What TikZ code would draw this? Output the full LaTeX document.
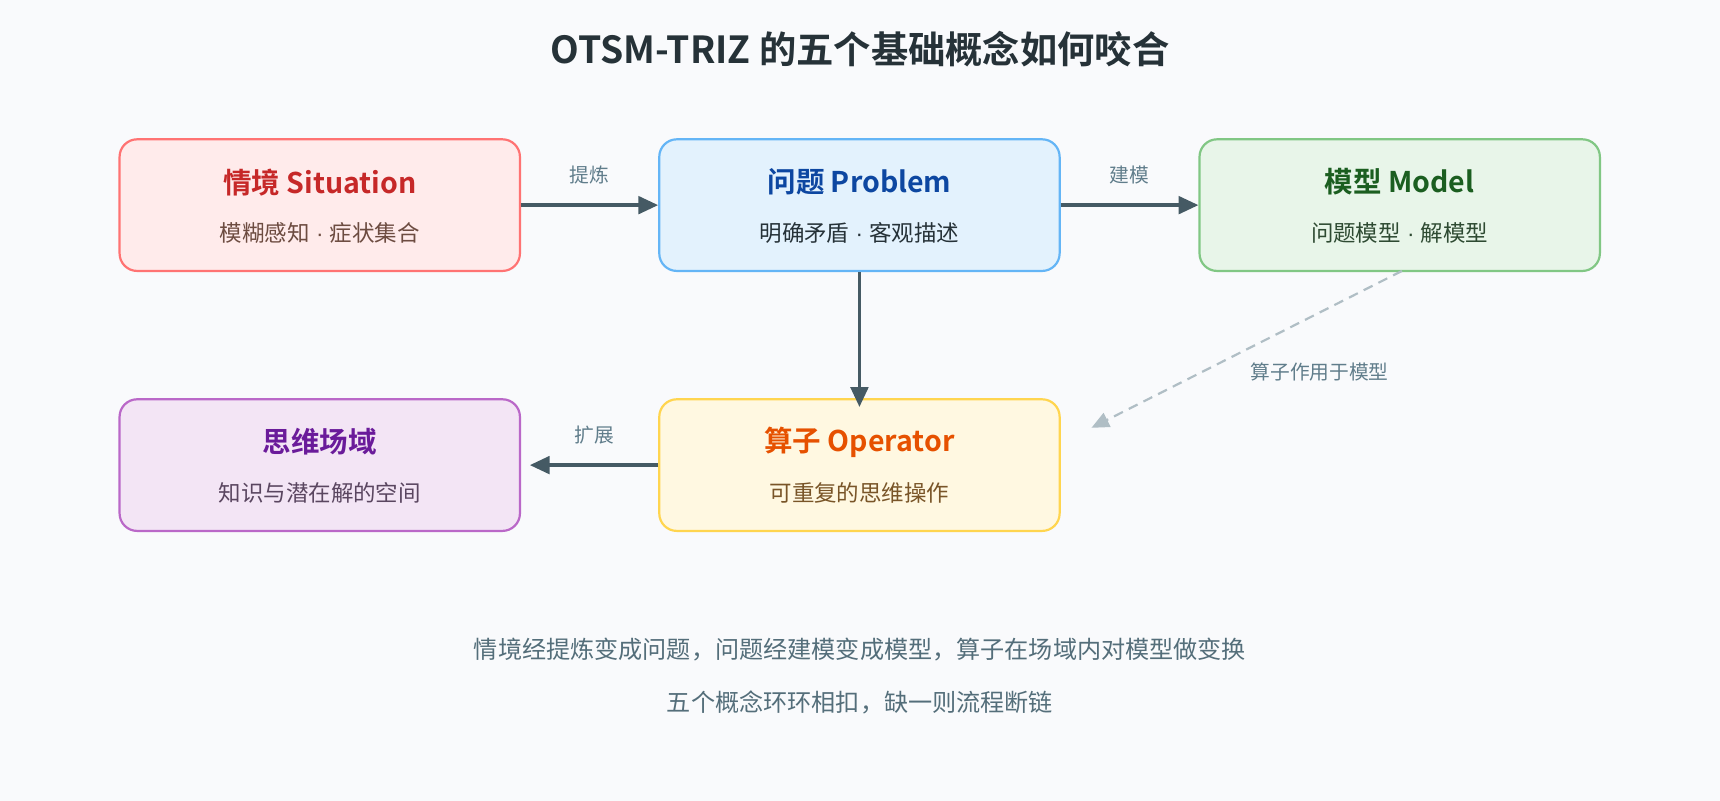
\documentclass[tikz,border=0pt]{standalone}
\usepackage{fontspec}
\setmainfont{Noto Sans CJK SC}[BoldFont={Noto Sans CJK SC Bold}]
\newfontfamily\latinf{Liberation Sans}
\usetikzlibrary{arrows.meta,positioning}
\definecolor{bgc}{HTML}{F9FAFC}
\definecolor{arr}{HTML}{455A64}
\definecolor{dashc}{HTML}{B0BEC5}
\definecolor{lbl}{HTML}{607D8B}
\definecolor{txt}{HTML}{546E7A}
\definecolor{ttl}{HTML}{263238}
\newcommand{\sep}{{\latinf\ ·\ }}
\begin{document}
\begin{tikzpicture}[x=1pt,y=-1pt,
    % box styles
    box/.style={draw, line width=2pt, rounded corners=16pt, minimum width=365pt, minimum height=120pt},
    head/.style={font=\fontsize{26}{30}\selectfont\bfseries},
    sub/.style={font=\fontsize{20.5}{24}\selectfont},
    flow/.style={-{Triangle[length=18pt,width=16pt]}, line width=3pt, arr},
    lab/.style={font=\fontsize{18}{21}\selectfont, text=lbl}]
\fill[bgc] (0,0) rectangle (1568,730);
\useasboundingbox (0,0) rectangle (1568,730);
\node[font=\fontsize{34}{38}\selectfont\bfseries, text=ttl] (title) at (784,45) {OTSM-TRIZ 的五个基础概念如何咬合};
% boxes
\node[box, draw=red!55!white, fill=red!8!white] (sit) at (291.5,187) {};
\node[box, draw={rgb,255:red,100;green,181;blue,246}, fill={rgb,255:red,227;green,242;blue,253}] (prob) at (783.5,187) {};
\node[box, draw={rgb,255:red,129;green,199;blue,132}, fill={rgb,255:red,232;green,245;blue,233}] (mod) at (1276,187) {};
\node[box, draw={rgb,255:red,186;green,104;blue,200}, fill={rgb,255:red,243;green,229;blue,245}] (fld) at (291.5,424) {};
\node[box, draw={rgb,255:red,255;green,213;blue,79}, fill={rgb,255:red,255;green,248;blue,225}] (op) at (783.5,424) {};
% texts
\node[head, text={rgb,255:red,198;green,40;blue,40}] at (291.5,166) {情境 Situation};
\node[sub, text={rgb,255:red,109;green,76;blue,65}] at (291.5,212) {模糊感知\sep 症状集合};
\node[head, text={rgb,255:red,13;green,71;blue,161}] at (783.5,166) {问题 Problem};
\node[sub, text=ttl] at (783.5,212) {明确矛盾\sep 客观描述};
\node[head, text={rgb,255:red,27;green,94;blue,32}] at (1276,166) {模型 Model};
\node[sub, text={rgb,255:red,46;green,74;blue,50}] at (1276,212) {问题模型\sep 解模型};
\node[head, text={rgb,255:red,106;green,27;blue,154}] at (291.5,403) {思维场域};
\node[sub, text={rgb,255:red,90;green,70;blue,96}] at (291.5,449) {知识与潜在解的空间};
\node[head, text={rgb,255:red,230;green,81;blue,0}] at (783.5,403) {算子 Operator};
\node[sub, text={rgb,255:red,121;green,85;blue,40}] at (783.5,449) {可重复的思维操作};
% connectors
\draw[flow] (sit.east) -- (prob.west) node[midway, above=14pt, lab] {提炼};
\draw[flow] (prob.east) -- (mod.west) node[midway, above=14pt, lab] {建模};
\draw[flow] (prob.south) -- ([yshift=-8pt]op.north);
\draw[flow] (op.west) -- ([xshift=8pt]fld.east) node[midway, above=14pt, lab] {扩展};
\coordinate (mb) at (1278,247);
\coordinate (oe) at (995,390);
\draw[dashc, line width=2pt, dash pattern=on 9pt off 6pt, -{Triangle[length=16pt,width=14pt]}] (mb) -- (oe);
\node[lab] at (1203,339) {算子作用于模型};
\node[font=\fontsize{22}{26}\selectfont, text=txt] (l1) at (784,592) {情境经提炼变成问题，问题经建模变成模型，算子在场域内对模型做变换};
\node[font=\fontsize{22}{26}\selectfont, text=txt] (l2) at (784,640) {五个概念环环相扣，缺一则流程断链};
\end{tikzpicture}
\end{document}
